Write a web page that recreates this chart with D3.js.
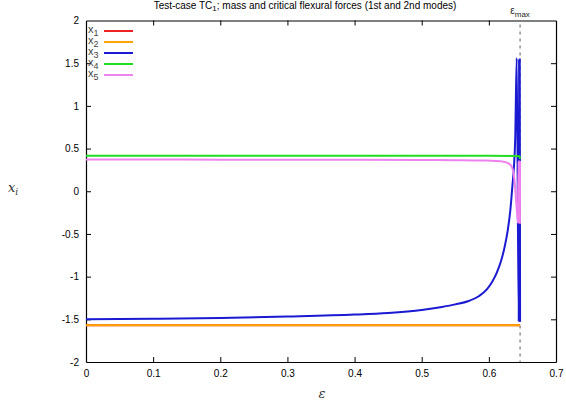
<!DOCTYPE html>
<html>
<head>
<meta charset="utf-8">
<script src="https://cdn.jsdelivr.net/npm/d3@7"></script>
<style>
  body { margin: 0; background: #fff; }
  svg { font-family: "Liberation Sans", Arial, sans-serif; }
</style>
</head>
<body>
<div id="chart"></div>
<script>
// values
const epsMax = 0.6465;

const eps1 = [0, 0.2, 0.4, 0.6, 0.6465];
const x1 = [-1.571, -1.571, -1.571, -1.571, -1.571];

const eps2 = [0, 0.2, 0.4, 0.6, 0.6465];
const x2 = [-1.571, -1.571, -1.571, -1.571, -1.571];

const eps3 = [0, 0.1, 0.2, 0.3, 0.4, 0.45, 0.5, 0.53, 0.55, 0.57, 0.585, 0.597, 0.605, 0.612,
              0.618, 0.623, 0.6283, 0.632, 0.6345, 0.6392, 0.6415,
              0.6445, 0.645, 0.6455, 0.646, 0.6465];
const x3 = [-1.499, -1.493, -1.484, -1.468, -1.445, -1.425, -1.39, -1.355, -1.325, -1.285, -1.23,
            -1.15, -1.06, -0.95, -0.82, -0.67, -0.45, -0.22, 0.01, 0.6, 1.56,
            -1.53, 1.55, -1.52, 1.55, -1.53];

const eps4 = [0, 0.2, 0.4, 0.6, 0.64, 0.646, 0.6465];
const x4 = [0.415, 0.415, 0.415, 0.415, 0.414, 0.41, 0.38];

const eps5 = [0, 0.1, 0.2, 0.3, 0.4, 0.5, 0.55, 0.59, 0.61, 0.62, 0.627, 0.632, 0.635, 0.637,
              0.639, 0.641, 0.6435, 0.6445, 0.645, 0.6455, 0.646, 0.6465];
const x5 = [0.372, 0.371, 0.37, 0.369, 0.368, 0.366, 0.364, 0.36, 0.355, 0.348, 0.335, 0.31,
            0.27, 0.2, 0.05, -0.15, -0.37, 0.35, -0.37, 0.35, -0.37, 0.35];

const seriesNames = ['1', '2', '3', '4', '5'];
const seriesColors = ['#ee2222', '#ffa500', '#1a1ad2', '#22dd22', '#ee82ee'];
const xTicks = [0, 0.1, 0.2, 0.3, 0.4, 0.5, 0.6, 0.7];
const yTicks = [-2, -1.5, -1, -0.5, 0, 0.5, 1, 1.5, 2];

const width = 566, height = 405;
const margin = {top: 20.5, right: 10, bottom: 43, left: 86};

const svg = d3.select('#chart').append('svg')
  .attr('width', width)
  .attr('height', height);

const x = d3.scaleLinear().domain([0, 0.7]).range([margin.left, width - margin.right]);
const y = d3.scaleLinear().domain([-2, 2]).range([height - margin.bottom, margin.top]);

// axes, ticks pointing inward on all four sides
const axB = svg.append('g')
  .attr('transform', `translate(0,${height - margin.bottom})`)
  .call(d3.axisBottom(x).tickValues(xTicks).tickSizeInner(-5).tickSizeOuter(0).tickPadding(8)
    .tickFormat(d => String(d)));
const axT = svg.append('g')
  .attr('transform', `translate(0,${margin.top})`)
  .call(d3.axisTop(x).tickValues(xTicks).tickSizeInner(-5).tickSizeOuter(0).tickFormat(''));
const axL = svg.append('g')
  .attr('transform', `translate(${margin.left},0)`)
  .call(d3.axisLeft(y).tickValues(yTicks).tickSizeInner(-5).tickSizeOuter(0).tickPadding(7)
    .tickFormat(d => String(d)));
const axR = svg.append('g')
  .attr('transform', `translate(${width - margin.right},0)`)
  .call(d3.axisRight(y).tickValues(yTicks).tickSizeInner(-5).tickSizeOuter(0).tickFormat(''));

[axB, axT, axL, axR].forEach(a => {
  a.select('.domain').attr('stroke', '#000').attr('stroke-width', 1.2);
  a.selectAll('.tick line').attr('stroke', '#000').attr('stroke-width', 1);
  a.selectAll('.tick text').attr('font-size', 10).attr('fill', '#000')
    .attr('font-family', '"Liberation Sans", Arial, sans-serif');
});
// end ticks sit on the frame corners
axT.selectAll('.tick').filter(d => d === 0 || d === 0.7).select('line').remove();
axB.selectAll('.tick').filter(d => d === 0 || d === 0.7).select('line').remove();
axL.selectAll('.tick').filter(d => d === 2 || d === -2).select('line').remove();
axR.selectAll('.tick').filter(d => d === 2 || d === -2).select('line').remove();

// eps max marker
svg.append('line')
  .attr('x1', x(epsMax)).attr('x2', x(epsMax))
  .attr('y1', y(2) + 4).attr('y2', y(-2))
  .attr('stroke', '#777')
  .attr('stroke-width', 1.2)
  .attr('stroke-dasharray', '3,4');

const epsLabel = svg.append('text')
  .attr('x', x(epsMax))
  .attr('y', 14)
  .attr('text-anchor', 'middle')
  .attr('font-size', 10)
  .attr('fill', '#222');
epsLabel.append('tspan').text('ε');
epsLabel.append('tspan').attr('dy', 3).attr('font-size', 8).text('max');

// series
const line = d3.line().x(d => x(d[0])).y(d => y(d[1])).curve(d3.curveMonotoneX);
const series = [[eps1, x1], [eps2, x2], [eps3, x3], [eps4, x4], [eps5, x5]];
const plotG = svg.append('g');
series.forEach(([e, v], i) => {
  plotG.append('path')
    .datum(e.map((d, k) => [d, v[k]]))
    .attr('d', line)
    .attr('fill', 'none')
    .attr('stroke', seriesColors[i])
    .attr('stroke-width', 2)
    .attr('stroke-linejoin', 'round');
});
// violet end band drawn again over the blue, as in the picture
plotG.append('path')
  .datum(eps5.slice(16).map((d, k) => [d, x5[16 + k]]))
  .attr('d', line)
  .attr('fill', 'none')
  .attr('stroke', seriesColors[4])
  .attr('stroke-width', 2);

// legend
const leg = svg.append('g').attr('transform', 'translate(88,31)');
seriesNames.forEach((n, i) => {
  const g = leg.append('g').attr('transform', `translate(0,${i * 11})`);
  const t = g.append('text').attr('x', 0).attr('y', 2).attr('font-size', 11).attr('fill', '#444');
  t.append('tspan').text('x');
  t.append('tspan').attr('dy', 3).attr('font-size', 9).text(n);
  g.append('line')
    .attr('x1', 16).attr('x2', 45)
    .attr('y1', 0).attr('y2', 0)
    .attr('stroke', seriesColors[i])
    .attr('stroke-width', 2);
});

// title
const title = svg.append('text')
  .attr('x', 305)
  .attr('y', 8.5)
  .attr('text-anchor', 'middle')
  .attr('font-size', 10)
  .attr('fill', '#000');
title.append('tspan').text('Test-case TC');
title.append('tspan').attr('dy', 2.5).attr('font-size', 8).text('1');
title.append('tspan').attr('dy', -2.5).text('; mass and critical flexural forces (1st and 2nd modes)');

// axis labels
const yl = svg.append('text')
  .attr('x', 8)
  .attr('y', 192)
  .style('font-family', '"DejaVu Serif", "Liberation Serif", serif')
  .attr('font-style', 'italic')
  .attr('font-size', 13)
  .attr('fill', '#333');
yl.append('tspan').text('x');
yl.append('tspan').attr('dy', 3).attr('font-size', 9).text('i');

svg.append('text')
  .attr('x', 322)
  .attr('y', 398)
  .attr('text-anchor', 'middle')
  .style('font-family', '"DejaVu Serif", "Liberation Serif", serif')
  .attr('font-style', 'italic')
  .attr('font-size', 13)
  .attr('fill', '#333')
  .text('ε');
</script>
</body>
</html>
